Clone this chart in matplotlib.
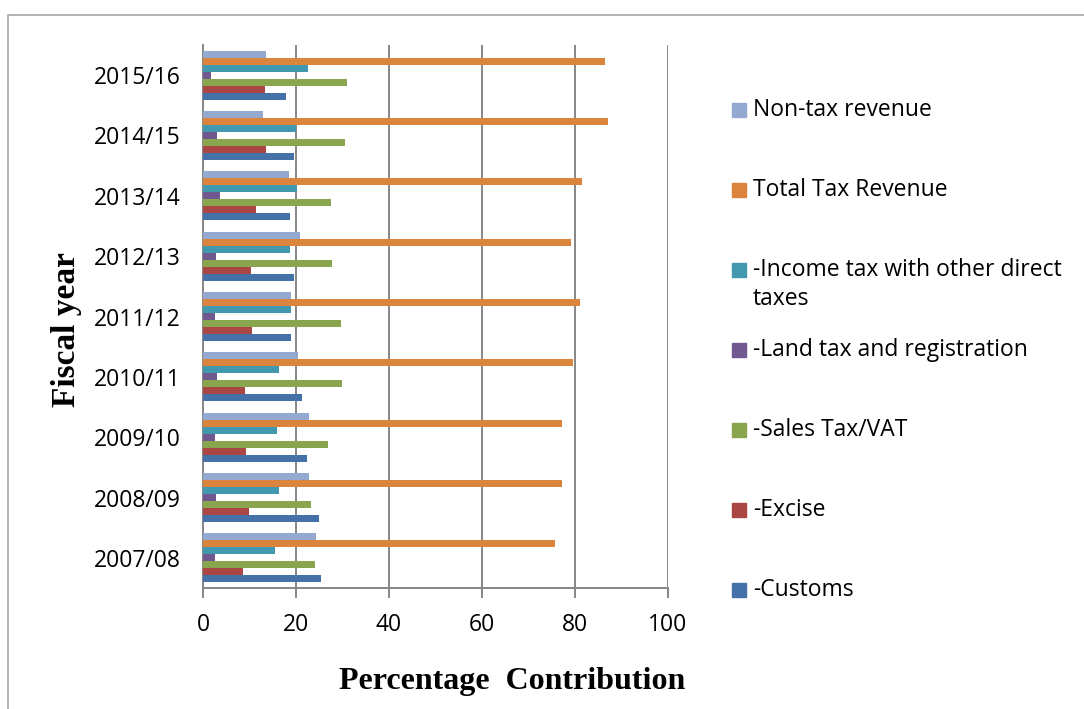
import numpy as np
import matplotlib.pyplot as plt
from matplotlib.patches import Rectangle

years = ['2007/08', '2008/09', '2009/10', '2010/11', '2011/12',
         '2012/13', '2013/14', '2014/15', '2015/16']

customs = [25.3, 24.9, 22.3, 21.2, 19.0, 19.5, 18.7, 19.5, 17.8]
excise = [8.5, 9.9, 9.2, 9.0, 10.6, 10.4, 11.3, 13.5, 13.3]
sales_vat = [24.0, 23.2, 26.9, 29.9, 29.7, 27.7, 27.6, 30.6, 30.9]
land_tax = [2.6, 2.7, 2.6, 3.0, 2.6, 2.7, 3.6, 3.0, 1.7]
income_tax = [15.5, 16.4, 16.0, 16.3, 19.0, 18.8, 20.3, 20.1, 22.6]
total_tax = [75.8, 77.3, 77.2, 79.5, 81.1, 79.2, 81.6, 87.0, 86.5]
non_tax = [24.2, 22.7, 22.8, 20.5, 18.9, 20.8, 18.4, 13.0, 13.5]

labels = ['-Customs', '-Excise', '-Sales Tax/VAT', '-Land tax and registration',
          '-Income tax with other direct\ntaxes', 'Total Tax Revenue', 'Non-tax revenue']
colors = ['#4472A8', '#AA4643', '#89A54E', '#71588F', '#4198AF', '#DB843D', '#93A9CF']
series = [customs, excise, sales_vat, land_tax, income_tax, total_tax, non_tax]

plt.rcParams['font.family'] = ['Open Sans', 'DejaVu Sans']

W, H = 1084, 709
fig = plt.figure(figsize=(W / 100, H / 100), dpi=100)
ax = fig.add_axes([203 / W, 1 - 588 / H, 465 / W, 543 / H])

# outer chart frame
fig.add_artist(Rectangle((8 / W, -0.02), 1.1, 1.02 - 15 / H, transform=fig.transFigure,
                         fill=False, edgecolor='#A6A6A6', linewidth=1.2))

y = np.arange(len(years))
h = 0.116
for k, (vals, lab, col) in enumerate(zip(series, labels, colors)):
    ax.barh(y + (k - 3) * h, vals, height=h, color=col, label=lab, zorder=3)

ax.set_xlim(0, 100)
ax.set_ylim(-0.5, len(years) - 0.5)
ax.set_xticks([0, 20, 40, 60, 80, 100])
ax.set_yticks(y)
ax.set_yticklabels(years)
ax.grid(axis='x', color='#868686', linewidth=1.4, zorder=0)
ax.tick_params(axis='x', length=7, width=1.4, color='#868686', pad=11, labelsize=16.5)
ax.tick_params(axis='y', length=0, pad=16, labelsize=16.5)
for s in ['top', 'right']:
    ax.spines[s].set_visible(False)
for s in ['left', 'bottom']:
    ax.spines[s].set_color('#868686')
    ax.spines[s].set_linewidth(1.4)

ax.set_xlabel('Percentage  Contribution', family='Liberation Serif',
              fontweight='bold', fontsize=23)
ax.xaxis.set_label_coords((512 - 203) / 465, (588 - 682) / 543)
ax.xaxis.label.set_va('center')
ax.set_ylabel('Fiscal year', family='Liberation Serif', fontweight='bold', fontsize=24)
ax.yaxis.set_label_coords((66 - 203) / 465, (588 - 330) / 543)
ax.yaxis.label.set_va('center')

# legend on the right, first entry at the bottom
for k, (lab, col) in enumerate(zip(labels, colors)):
    yc = 590 - 80 * k
    fig.add_artist(Rectangle((732 / W, 1 - (yc + 7) / H), 14 / W, 14 / H,
                             transform=fig.transFigure, color=col))
    if '\n' in lab:
        fig.text(753 / W, 1 - (yc - 12) / H, lab, va='top', ha='left',
                 fontsize=16.5, linespacing=1.3)
    else:
        fig.text(753 / W, 1 - yc / H, lab, va='center', ha='left', fontsize=16.5)

fig.savefig('out.png', dpi=100)
